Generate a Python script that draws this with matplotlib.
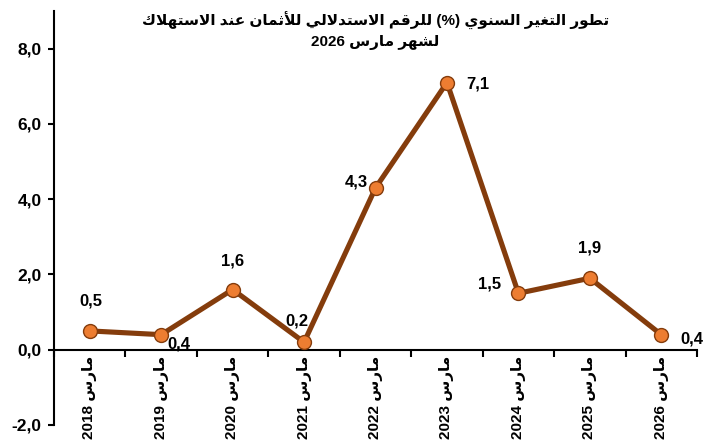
import matplotlib
matplotlib.use('Agg')
import matplotlib.pyplot as plt
from matplotlib.ticker import FixedLocator, NullFormatter

plt.rcParams['font.family'] = ['Liberation Sans', 'DejaVu Sans']
plt.rcParams['font.weight'] = 'bold'

# Data
years = ['2018', '2019', '2020', '2021', '2022', '2023', '2024', '2025', '2026']
month = 'مارس'
values = [0.5, 0.4, 1.6, 0.2, 4.3, 7.1, 1.5, 1.9, 0.4]
y_ticks = [-2, 0, 2, 4, 6, 8]
title_line1 = 'تطور التغير السنوي (%) للرقم الاستدلالي للأثمان عند الاستهلاك'
title_line2 = 'لشهر مارس 2026'

# where each value label sits relative to its marker (pixels, x right / y up)
label_offsets = [(1, 30), (18, -9), (0, 29), (-7, 21), (-19, 6),
                 (31, -1), (-29, 9), (0, 30), (31, -4)]

# Arabic presentation forms (matplotlib does no shaping or bidi on its own)
DUAL = {'ب': 0xFE8F, 'ت': 0xFE95, 'ث': 0xFE99, 'ج': 0xFE9D, 'ح': 0xFEA1,
        'خ': 0xFEA5, 'س': 0xFEB1, 'ش': 0xFEB5, 'ص': 0xFEB9, 'ض': 0xFEBD,
        'ط': 0xFEC1, 'ظ': 0xFEC5, 'ع': 0xFEC9, 'غ': 0xFECD, 'ف': 0xFED1,
        'ق': 0xFED5, 'ك': 0xFED9, 'ل': 0xFEDD, 'م': 0xFEE1, 'ن': 0xFEE5,
        'ه': 0xFEE9, 'ي': 0xFEF1}
RIGHT = {'ا': 0xFE8D, 'أ': 0xFE83, 'د': 0xFEA9, 'ذ': 0xFEAB, 'ر': 0xFEAD,
         'ز': 0xFEAF, 'و': 0xFEED, 'ة': 0xFE93}
LAM_ALEF = {'ا': 0xFEFB, 'أ': 0xFEF7}


def shape(text):
    out = []
    i = 0
    n = len(text)
    while i < n:
        c = text[i]
        prev = text[i - 1] if i > 0 else ''
        joins_prev = prev in DUAL
        if c == 'ل' and i + 1 < n and text[i + 1] in LAM_ALEF:
            out.append(chr(LAM_ALEF[text[i + 1]] + (1 if joins_prev else 0)))
            i += 2
            continue
        nxt = text[i + 1] if i + 1 < n else ''
        joins_next = nxt in DUAL or nxt in RIGHT
        if c in DUAL:
            b = DUAL[c]
            if joins_prev and joins_next:
                out.append(chr(b + 3))
            elif joins_prev:
                out.append(chr(b + 1))
            elif joins_next:
                out.append(chr(b + 2))
            else:
                out.append(chr(b))
        elif c in RIGHT:
            out.append(chr(RIGHT[c] + (1 if joins_prev else 0)))
        else:
            out.append(c)
        i += 1
    return out


def ar(text):
    # right-to-left visual order, keep digit runs left-to-right
    glyphs = shape(text)[::-1]
    res, run = [], []
    for g in glyphs:
        if g.isdigit() or (run and g in ',.'):
            run.append(g)
        else:
            res.extend(run[::-1])
            run = []
            res.append({'(': ')', ')': '('}.get(g, g))
    res.extend(run[::-1])
    return ''.join(res)


line_color = '#843C0C'
marker_color = '#ED7D31'

fig = plt.figure(figsize=(7.07, 4.46), dpi=100)
ax = fig.add_axes([0.0764, 0.0471, 0.9095, 0.9282])

x = list(range(len(years)))
ax.plot(x, values, color=line_color, lw=3.7, marker='o', markersize=10,
        markerfacecolor=marker_color, markeredgecolor=line_color,
        markeredgewidth=1.0, zorder=3)

for xi, v, (dx, dy) in zip(x, values, label_offsets):
    ax.annotate(f'{v:.1f}'.replace('.', ','), (xi, v),
                xytext=(dx * 0.72, dy * 0.72), textcoords='offset points',
                ha='center', va='center', fontsize=12, fontweight='bold')

ax.set_xlim(-0.5, len(years) - 0.5)
ax.set_ylim(-2, 9)
ax.set_yticks(y_ticks)
ax.set_yticklabels([f'{t:.1f}'.replace('.', ',') for t in y_ticks],
                   fontsize=12.5, fontweight='bold')

ax.spines['top'].set_visible(False)
ax.spines['right'].set_visible(False)
ax.spines['bottom'].set_position(('data', 0))
ax.spines['left'].set_linewidth(1.5)
ax.spines['bottom'].set_linewidth(1.5)
ax.xaxis.set_major_locator(FixedLocator([i - 0.5 for i in range(len(years) + 1)]))
ax.xaxis.set_major_formatter(NullFormatter())
ax.tick_params(axis='x', direction='out', length=5, width=1.5)
ax.tick_params(axis='y', direction='out', length=4, width=1.5, pad=5)

for xi, yr in zip(x, years):
    ax.annotate(ar(f'{month} {yr}'), (xi, 0), xytext=(0, -4.5),
                textcoords='offset points', rotation=90,
                ha='center', va='top', fontsize=11, fontweight='bold')

fig.text(0.531, 0.974, ar(title_line1) + '\n' + ar(title_line2),
         ha='center', va='top', fontsize=11, fontweight='bold',
         linespacing=1.5)

fig.savefig('out.png', dpi=100)
